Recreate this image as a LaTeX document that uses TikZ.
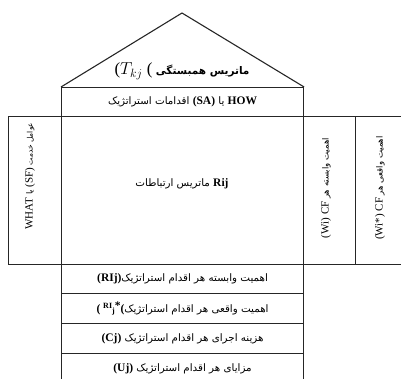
\documentclass[tikz,border=0pt]{standalone}
\usepackage{fontspec}
\setmainfont{Liberation Serif}
\newfontfamily\fa[Script=Arabic]{DejaVu Sans}
\TeXXeTstate=1
\newcommand\latb[1]{{\rmfamily\bfseries\fontsize{11.5}{13}\selectfont #1}}
\newcommand\latr[1]{{\rmfamily\fontsize{11}{13}\selectfont #1}}
\begin{document}
\begin{tikzpicture}[x=1pt,y=-1pt,
  frame/.style={draw=black!85, line width=1.1pt},
  cell/.style={frame, rectangle, inner sep=0pt, anchor=north west},
  txt/.style={inner sep=0pt, font=\fa\fontsize{10.3}{12}\selectfont},
  vtxt/.style={inner sep=0pt, rotate=90, font=\fa\fontsize{8.5}{10}\selectfont}]
\useasboundingbox (0,0) rectangle (401,379);
% roof and header
\node[cell, minimum width=242pt, minimum height=29pt] (how) at (61,87) {};
\coordinate (apex) at (182,13);
\draw[frame, line join=miter] (how.north west) -- (apex) -- (how.north east);
\node[txt] (rooft) at (182,71) {\beginR{\bfseries\fontsize{10.5}{12}\selectfont ماتریس همبستگی} \beginL{\rmfamily\fontsize{17}{19}\selectfont ($T_{kj}$ (}\endL\endR};
\node[txt] (howt) at (how.center) {\beginR\beginL\latb{HOW}\endL{} یا \beginL\latb{(SA)}\endL{} اقدامات استراتژیک\endR};
% main body
\node[cell, minimum width=242pt, minimum height=148pt] (mat) at (61,116) {};
\node[txt] (matt) at (182,184) {\beginR\beginL\latb{Rij}\endL{} ماتریس ارتباطات\endR};
\node[cell, minimum width=53pt, minimum height=148pt] (what) at (8,116) {};
\node[vtxt] (whatt) at (30,176) {\beginR{\fontsize{7.5}{9}\selectfont عوامل خدمت} \beginL\latr{(SF)}\endL{} یا \beginL\latr{WHAT}\endL\endR};
\node[cell, minimum width=52pt, minimum height=148pt] (cfw) at (303,116) {};
\node[vtxt] (cfwt) at (326,188) {\beginR اهمیت وابسته هر \beginL\latr{(Wi) CF}\endL\endR};
\node[cell, minimum width=50pt, minimum height=148pt] (cfws) at (355,116) {};
\node[vtxt] (cfwst) at (380,188) {\beginR اهمیت واقعی هر \beginL\latr{(Wi*) CF}\endL\endR};
% bottom rows
\node[cell, minimum width=242pt, minimum height=29pt] (r1) at (61,264) {};
\node[txt] (r1t) at (r1.center) {\beginR اهمیت وابسته هر اقدام استراتژیک\beginL\latb{(RIj)}\endL\endR};
\node[cell, minimum width=242pt, minimum height=30pt] (r2) at (61,293) {};
\node[txt] (r2t) at (r2.center) {\beginR اهمیت واقعی هر اقدام استراتژیک\beginL\latb{( \raisebox{3.5pt}{\fontsize{8}{9}\selectfont RI}\raisebox{-1pt}{\fontsize{8}{9}\selectfont j}\raisebox{3pt}{*}(}\endL\endR};
\node[cell, minimum width=242pt, minimum height=30pt] (r3) at (61,323) {};
\node[txt] (r3t) at (r3.center) {\beginR هزینه اجرای هر اقدام استراتژیک \beginL\latb{(Cj)}\endL\endR};
\node[cell, minimum width=242pt, minimum height=30pt] (r4) at (61,353) {};
\node[txt] (r4t) at (r4.center) {\beginR مزایای هر اقدام استراتژیک \beginL\latb{(Uj)}\endL\endR};
\end{tikzpicture}
\end{document}
